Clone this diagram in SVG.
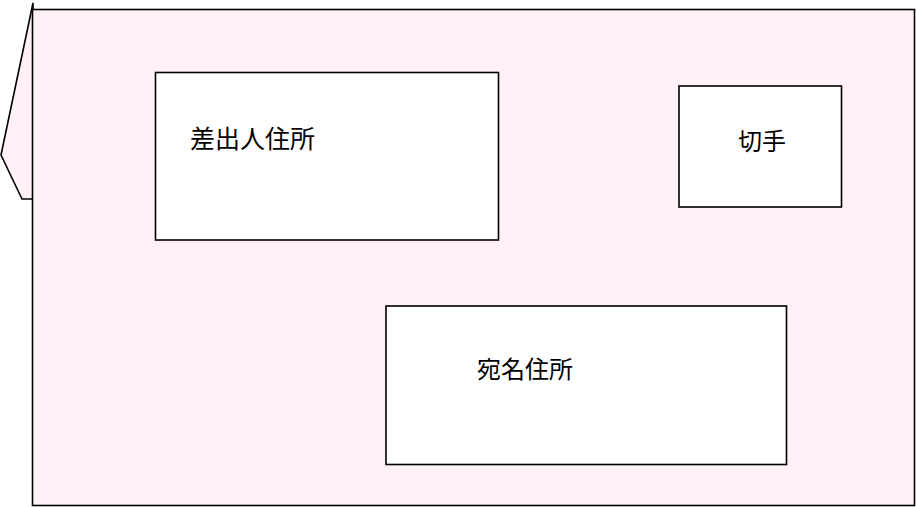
<svg xmlns="http://www.w3.org/2000/svg" width="916" height="507" viewBox="0 0 916 507">
<style>
.env{fill:#fff1f7;stroke:#000;stroke-width:1.6}
.box{fill:#fff;stroke:#000;stroke-width:1.6}
.t{font-family:"Noto Sans CJK JP","Noto Sans CJK SC",sans-serif;font-size:24px;fill:#000}
</style>
<g id="envelope">
<polygon class="env" points="33,3 1,155 22,199 33,199"/>
<rect class="env" x="32.5" y="9.5" width="882" height="496"/>
</g>
<g id="sender">
<rect class="box" x="155.5" y="72.5" width="343" height="167.5"/>
<text class="t" x="190" y="148" style="font-size:25px">差出人住所</text>
</g>
<g id="stamp">
<rect class="box" x="679" y="86" width="162.5" height="121"/>
<text class="t" x="738" y="150">切手</text>
</g>
<g id="recipient">
<rect class="box" x="386" y="306" width="400.5" height="158.5"/>
<text class="t" x="477" y="378">宛名住所</text>
</g>
<g id="connectors"/>
</svg>
